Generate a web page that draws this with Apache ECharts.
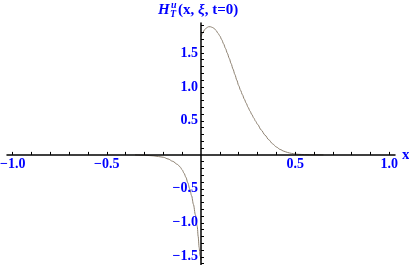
<!DOCTYPE html>
<html><head><meta charset="utf-8">
<script src="https://cdn.jsdelivr.net/npm/echarts@6/dist/echarts.min.js"></script>
<style>html,body{margin:0;padding:0;background:#fff}#c{width:409px;height:265px}</style>
</head><body><div id="c"></div>
<script>
// Left branch (x < 0)
const xLeft = [-0.35,-0.3,-0.25,-0.2,-0.175,-0.15,-0.125,-0.11,-0.1,-0.09,-0.08,-0.07,-0.06,-0.05,-0.04,-0.03,-0.02,-0.015,-0.01,-0.005,0];
const yLeft = [0,-0.005,-0.015,-0.035,-0.06,-0.095,-0.14,-0.18,-0.22,-0.27,-0.33,-0.41,-0.5,-0.6,-0.73,-0.88,-1.05,-1.2,-1.36,-1.48,-1.55];
// Right branch (x > 0)
const xRight = [0,0.01,0.02,0.03,0.04,0.05,0.06,0.07,0.08,0.09,0.1,0.11,0.12,0.13,0.14,0.15,0.16,0.17,0.18,0.19,0.2,0.21,0.22,0.23,0.24,0.25,0.26,0.27,0.28,0.29,0.3,0.32,0.34,0.36,0.38,0.4,0.42,0.44,0.46,0.48,0.5,0.52,0.55,0.6,0.65];
const yRight = [1.74,1.8,1.845,1.87,1.885,1.885,1.875,1.86,1.83,1.79,1.75,1.695,1.633,1.566,1.495,1.42,1.342,1.262,1.182,1.1,1.02,0.95,0.885,0.82,0.76,0.7,0.645,0.593,0.543,0.495,0.45,0.365,0.29,0.222,0.163,0.116,0.08,0.054,0.035,0.022,0.013,0.008,0.004,0.001,0];

const xLabelValues = [-1.0,-0.5,0.5,1.0];
const yLabelValues = [-1.5,-1.0,-0.5,0.5,1.0,1.5];
const xTickValues = [-1.0,-0.9,-0.8,-0.7,-0.6,-0.5,-0.4,-0.3,-0.2,-0.1,0.1,0.2,0.3,0.4,0.5,0.6,0.7,0.8,0.9,1.0];
const yTickValues = [-1.6,-1.5,-1.4,-1.3,-1.2,-1.1,-1.0,-0.9,-0.8,-0.7,-0.6,-0.5,-0.4,-0.3,-0.2,-0.1,0.1,0.2,0.3,0.4,0.5,0.6,0.7,0.8,0.9,1.0,1.1,1.2,1.3,1.4,1.5,1.6,1.7,1.8,1.9];

const BLUE = '#0000ff';
const SERIF = '"Liberation Serif","DejaVu Serif",serif';
const fmt = v => (v < 0 ? '\u2212' : '') + Math.abs(v).toFixed(1);

const GRID = {left:7, right:14, top:23, bottom:0};
const W = 409, H = 265;
const X_MIN = -1.03, X_MAX = 1.03;

const chart = echarts.init(document.getElementById('c'), null, {renderer:'canvas'});
const lineStyle = {color:'#8c8070', width:1};
chart.setOption({
  animation:false,
  backgroundColor:'#fff',
  grid:Object.assign({outerBoundsMode:'none', containLabel:false}, GRID),
  xAxis:{
    type:'value', min:X_MIN, max:X_MAX,
    axisLine:{onZero:false, lineStyle:{color:'#000', width:1.5}},
    axisTick:{show:true, inside:true, length:3, customValues:xTickValues, lineStyle:{color:'#000', width:1}},
    axisLabel:{customValues:xLabelValues, formatter:fmt, color:BLUE, fontFamily:SERIF, fontWeight:'bold', fontSize:14, margin:3},
    splitLine:{show:false}, z:5
  },
  yAxis:{
    type:'value', min:-1.62, max:1.94,
    axisLine:{show:true, onZero:false, lineStyle:{color:'#000', width:1.5}},
    axisTick:{show:true, inside:true, length:3, customValues:yTickValues, lineStyle:{color:'#000', width:1}},
    axisLabel:{customValues:yLabelValues, formatter:fmt, color:BLUE, fontFamily:SERIF, fontWeight:'bold', fontSize:14, margin:3},
    splitLine:{show:false}, z:5
  },
  series:[
    {type:'line', data:xLeft.map((x,i)=>[x,yLeft[i]]), showSymbol:false, smooth:0.3, smoothMonotone:'x', lineStyle:lineStyle, z:1},
    {type:'line', data:xRight.map((x,i)=>[x,yRight[i]]), showSymbol:false, smooth:0.3, smoothMonotone:'x', lineStyle:lineStyle, z:1}
  ]
});

// Move the axes to cross at the origin
const origin = chart.convertToPixel({gridIndex:0},[0,0]);
const ax = origin[0], ay = origin[1];
const xEnd = chart.convertToPixel({gridIndex:0},[X_MAX,0])[0];
const tf = {fill:BLUE, fontFamily:SERIF, fontWeight:'bold', align:'left', verticalAlign:'top'};
chart.setOption({
  xAxis:{offset:-((H - GRID.bottom) - ay)},
  yAxis:{offset:-(ax - GRID.left)},
  graphic:[
    {type:'text', x:xEnd+7, y:ay, style:{text:'x', fill:BLUE, fontFamily:SERIF, fontWeight:'bold', fontSize:15, align:'left', verticalAlign:'middle'}},
    {type:'text', x:ax-43, y:3, style:Object.assign({}, tf, {text:'H', fontSize:15, fontStyle:'italic'})},
    {type:'text', x:ax-30, y:0, style:Object.assign({}, tf, {text:'u', fontSize:10, fontStyle:'italic'})},
    {type:'text', x:ax-31, y:9, style:Object.assign({}, tf, {text:'T', fontSize:10, fontStyle:'italic'})},
    {type:'text', x:ax-23, y:3, style:Object.assign({}, tf, {
      text:'{n|(x, }{g|\u03be}{n|, t=0)}',
      rich:{n:{fill:BLUE, fontFamily:SERIF, fontWeight:'bold', fontSize:15}, g:{fill:BLUE, fontFamily:SERIF, fontWeight:'bold', fontSize:15, fontStyle:'italic'}}
    })}
  ]
});
</script></body></html>
